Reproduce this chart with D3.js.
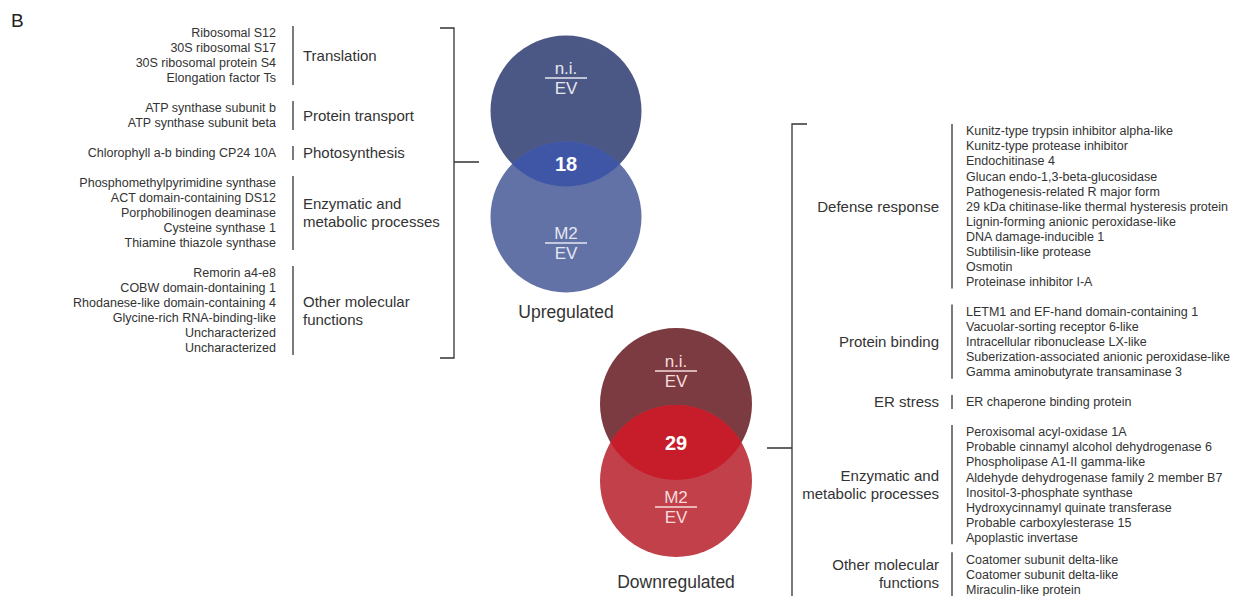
<!DOCTYPE html>
<html>
<head>
<meta charset="utf-8">
<script src="https://cdn.jsdelivr.net/npm/d3@7"></script>
<style>
  body { margin: 0; background: #fff; }
  svg { display: block; font-family: "Liberation Sans", Arial, sans-serif; }
</style>
</head>
<body>
<svg id="chart" width="1234" height="596"></svg>
<script>
// categories and proteins, upregulated side
const upLabels = [
    ['Translation'],
    ['Protein transport'],
    ['Photosynthesis'],
    ['Enzymatic and', 'metabolic processes'],
    ['Other molecular', 'functions'],
];
const upItems = [
    ['Ribosomal S12', '30S ribosomal S17', '30S ribosomal protein S4', 'Elongation factor Ts'],
    ['ATP synthase subunit b', 'ATP synthase subunit beta'],
    ['Chlorophyll a-b binding CP24 10A'],
    ['Phosphomethylpyrimidine synthase', 'ACT domain-containing DS12', 'Porphobilinogen deaminase',
        'Cysteine synthase 1', 'Thiamine thiazole synthase'],
    ['Remorin a4-e8', 'COBW domain-dontaining 1', 'Rhodanese-like domain-containing 4',
        'Glycine-rich RNA-binding-like', 'Uncharacterized', 'Uncharacterized'],
];

// categories and proteins, downregulated side
const downLabels = [
    ['Defense response'],
    ['Protein binding'],
    ['ER stress'],
    ['Enzymatic and', 'metabolic processes'],
    ['Other molecular', 'functions'],
];
const downItems = [
    ['Kunitz-type trypsin inhibitor alpha-like', 'Kunitz-type protease inhibitor', 'Endochitinase 4',
        'Glucan endo-1,3-beta-glucosidase', 'Pathogenesis-related R major form',
        '29 kDa chitinase-like thermal hysteresis protein', 'Lignin-forming anionic peroxidase-like',
        'DNA damage-inducible 1', 'Subtilisin-like protease', 'Osmotin', 'Proteinase inhibitor I-A'],
    ['LETM1 and EF-hand domain-containing 1', 'Vacuolar-sorting receptor 6-like',
        'Intracellular ribonuclease LX-like', 'Suberization-associated anionic peroxidase-like',
        'Gamma aminobutyrate transaminase 3'],
    ['ER chaperone binding protein'],
    ['Peroxisomal acyl-oxidase 1A', 'Probable cinnamyl alcohol dehydrogenase 6',
        'Phospholipase A1-II gamma-like', 'Aldehyde dehydrogenase family 2 member B7',
        'Inositol-3-phosphate synthase', 'Hydroxycinnamyl quinate transferase',
        'Probable carboxylesterase 15', 'Apoplastic invertase'],
    ['Coatomer subunit delta-like', 'Coatomer subunit delta-like', 'Miraculin-like protein'],
];

// venn diagrams
const vennTitles = ['Upregulated', 'Downregulated'];
const vennCounts = [18, 29];
const vennSets = [['n.i.', 'EV'], ['M2', 'EV']];

const ink = '#333';
const svg = d3.select('#chart');

svg.append('text')
    .attr('x', 11)
    .attr('y', 27)
    .attr('font-size', 19)
    .attr('fill', '#222')
    .text('B');

// row index -> y, with blank rows between groups
function rowLayout(items, gaps) {
    let row = 0;
    return items.map((list, i) => {
        row += gaps[i];
        const rows = list.map(() => row++);
        return rows;
    });
}

function drawList(labels, items, o) {
    const y = d3.scaleLinear().domain([0, 1]).range([o.top, o.top + o.step]);
    const rows = rowLayout(items, o.gaps);
    const g = svg.append('g');

    items.forEach((list, i) => {
        const grp = g.append('g');
        const r = rows[i];
        const y0 = y(r[0]);
        const y1 = y(r[r.length - 1]);

        grp.selectAll('text.item')
            .data(list)
            .enter()
            .append('text')
            .attr('class', 'item')
            .attr('x', o.itemX)
            .attr('y', (d, k) => y(r[k]))
            .attr('dy', '0.35em')
            .attr('text-anchor', o.itemAnchor)
            .attr('font-size', 12.5)
            .attr('fill', ink)
            .text(d => d);

        grp.append('line')
            .attr('x1', o.sepX).attr('x2', o.sepX)
            .attr('y1', y0 - 7).attr('y2', o.lastOpen && i === items.length - 1 ? 600 : y1 + 7)
            .attr('stroke', ink)
            .attr('stroke-width', 1.3);

        const mid = (y0 + y1) / 2;
        const lab = labels[i];
        grp.selectAll('text.label')
            .data(lab)
            .enter()
            .append('text')
            .attr('class', 'label')
            .attr('x', o.labelX)
            .attr('y', (d, k) => mid + (k - (lab.length - 1) / 2) * 18)
            .attr('dy', '0.35em')
            .attr('text-anchor', o.labelAnchor)
            .attr('font-size', 15)
            .attr('fill', ink)
            .text(d => d);
    });
    const all = rows.flat();
    return { y, first: y(all[0]), last: y(all[all.length - 1]) };
}

const left = drawList(upLabels, upItems, {
    top: 33, step: 15, gaps: [0, 1, 1, 1, 1],
    itemX: 276, itemAnchor: 'end', sepX: 293, labelX: 303, labelAnchor: 'start',
});

const right = drawList(downLabels, downItems, {
    top: 131, step: 15.05, gaps: [0, 1, 1, 1, 0.45],
    itemX: 966, itemAnchor: 'start', sepX: 952, labelX: 939, labelAnchor: 'end', lastOpen: true,
});

// brackets
svg.append('path')
    .attr('d', `M440,${left.first - 5}H454V${left.last + 10}H440M454,162H479`)
    .attr('fill', 'none')
    .attr('stroke', ink)
    .attr('stroke-width', 1.3);

svg.append('path')
    .attr('d', `M807,${right.first - 7}H792V600M767,448H792`)
    .attr('fill', 'none')
    .attr('stroke', ink)
    .attr('stroke-width', 1.3);

// venns
const venns = [
    { cx: 566, cy1: 111, cy2: 217, r: 75.5, top: '#4b5784', bottom: '#6272a7', both: '#3f56a6', txt: '#e4e7f2', titleY: 312 },
    { cx: 676, cy1: 404, cy2: 481, r: 76, top: '#7b3b40', bottom: '#c2404a', both: '#c71d2a', txt: '#f6dcdc', titleY: 582 },
];

venns.forEach((v, i) => {
    const g = svg.append('g');
    const clipId = `clip${i}`;
    svg.append('clipPath').attr('id', clipId)
        .append('circle').attr('cx', v.cx).attr('cy', v.cy1).attr('r', v.r);

    g.append('circle').attr('cx', v.cx).attr('cy', v.cy1).attr('r', v.r).attr('fill', v.top);
    g.append('circle').attr('cx', v.cx).attr('cy', v.cy2).attr('r', v.r).attr('fill', v.bottom);
    g.append('circle').attr('cx', v.cx).attr('cy', v.cy2).attr('r', v.r)
        .attr('fill', v.both).attr('clip-path', `url(#${clipId})`);

    const mid = (v.cy1 + v.r + v.cy2 - v.r) / 2;
    g.append('text')
        .attr('x', v.cx).attr('y', mid).attr('dy', '0.35em')
        .attr('text-anchor', 'middle')
        .attr('font-size', 20).attr('font-weight', 'bold')
        .attr('fill', '#fff')
        .text(vennCounts[i]);

    // fraction labels: n.i./EV in top circle, M2/EV in bottom
    const fy = [v.cy1 - 33, v.cy2 + 26];
    vennSets.forEach((s, k) => {
        g.append('text')
            .attr('x', v.cx).attr('y', fy[k] - 10).attr('dy', '0.35em')
            .attr('text-anchor', 'middle').attr('font-size', 17).attr('fill', v.txt)
            .text(s[0]);
        g.append('line')
            .attr('x1', v.cx - 21).attr('x2', v.cx + 21)
            .attr('y1', fy[k]).attr('y2', fy[k])
            .attr('stroke', v.txt).attr('stroke-width', 1.3);
        g.append('text')
            .attr('x', v.cx).attr('y', fy[k] + 10).attr('dy', '0.35em')
            .attr('text-anchor', 'middle').attr('font-size', 17).attr('fill', v.txt)
            .text(s[1]);
    });

    g.append('text')
        .attr('x', v.cx).attr('y', v.titleY).attr('dy', '0.35em')
        .attr('text-anchor', 'middle')
        .attr('font-size', 17.5)
        .attr('fill', ink)
        .text(vennTitles[i]);
});
</script>
</body>
</html>
